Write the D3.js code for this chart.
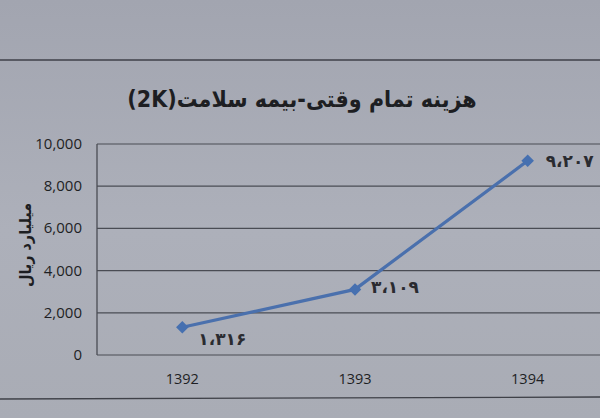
<!DOCTYPE html>
<html><head><meta charset="utf-8">
<script src="https://cdn.jsdelivr.net/npm/d3@7"></script>
<style>html,body{margin:0;padding:0;background:#aaadb7;}svg{display:block;}</style>
</head><body>
<svg id="c" width="600" height="418"></svg>
<script>
const categories = ["1392", "1393", "1394"];
const values = [1316, 3109, 9207];
const valueLabels = ["۱،۳۱۶", "۳،۱۰۹", "۹،۲۰۷"];
const yTicks = [0, 2000, 4000, 6000, 8000, 10000];
const titleText = "هزینه تمام وقتی-بیمه سلامت(2K)";
const yTitle = "میلیارد ریال";

(function(){
const svg = d3.select("#c");
const W = 600, H = 418;
const defs = svg.append("defs");
const g0 = defs.append("linearGradient").attr("id","bg").attr("x1",0).attr("y1",0).attr("x2",0).attr("y2",1);
g0.append("stop").attr("offset","0%").attr("stop-color","#a2a5b0");
g0.append("stop").attr("offset","55%").attr("stop-color","#adb0ba");
g0.append("stop").attr("offset","100%").attr("stop-color","#a9acb5");
svg.append("rect").attr("width",W).attr("height",H).attr("fill","url(#bg)");

svg.append("line").attr("x1",0).attr("x2",W).attr("y1",60).attr("y2",60).attr("stroke","#3f4148").attr("stroke-width",1.3);
svg.append("line").attr("x1",0).attr("x2",W).attr("y1",399).attr("y2",397).attr("stroke","#3f4148").attr("stroke-width",1.3);

const pl = 97, pt = 144, pb = 355, pr = 615;
const x = d3.scaleBand().domain(categories).range([pl, pr]);
const y = d3.scaleLinear().domain([0, 10000]).range([pb, pt]);

svg.append("g").selectAll("line").data(yTicks).join("line")
  .attr("x1", pl).attr("x2", W)
  .attr("y1", d => y(d)).attr("y2", d => y(d))
  .attr("stroke", "#4a4c54").attr("stroke-width", 1.2);
svg.append("line").attr("x1",pl).attr("x2",pl).attr("y1",pt).attr("y2",pb).attr("stroke","#4a4c54").attr("stroke-width",1.3);

svg.append("g").selectAll("text").data(yTicks).join("text")
  .attr("x", 82).attr("y", d => y(d) + 5)
  .attr("text-anchor", "end")
  .attr("font-family", "Open Sans, sans-serif").attr("font-size", 15).attr("fill", "#1e1f24")
  .text(d => d3.format(",")(d));

svg.append("g").selectAll("text").data(categories).join("text")
  .attr("x", d => x(d) + x.bandwidth()/2 - 1).attr("y", 384)
  .attr("text-anchor", "middle")
  .attr("font-family", "Open Sans, sans-serif").attr("font-size", 14.5).attr("fill", "#1e1f24")
  .text(d => d);

svg.append("text").attr("x", 302).attr("y", 107)
  .attr("text-anchor", "middle").attr("direction","rtl").style("unicode-bidi","embed")
  .attr("font-family", "DejaVu Sans Condensed, DejaVu Sans, sans-serif").attr("font-weight", "bold").attr("font-size", 23).attr("fill", "#1d1e22")
  .text(titleText);

svg.append("text").attr("transform", "translate(31,245) rotate(-90)")
  .attr("text-anchor", "middle").attr("direction","rtl").style("unicode-bidi","embed")
  .attr("font-family", "DejaVu Sans Condensed, DejaVu Sans, sans-serif").attr("font-weight", "bold").attr("font-size", 16).attr("fill", "#1d1e22")
  .text(yTitle);

const pts = categories.map((c, i) => [x(c) + x.bandwidth()/2 - 1, y(values[i])]);
svg.append("path").datum(pts)
  .attr("d", d3.line())
  .attr("fill", "none").attr("stroke", "#4a70ad").attr("stroke-width", 3.2);
svg.append("g").selectAll("path").data(pts).join("path")
  .attr("transform", d => `translate(${d[0]},${d[1]})`)
  .attr("d", d3.symbol(d3.symbolDiamond2, 100))
  .attr("fill", "#4670b0");

const offs = [[40, 13], [40, -1], [42, 1]];
svg.append("g").selectAll("text").data(pts).join("text")
  .attr("x", (d, i) => d[0] + offs[i][0]).attr("y", (d, i) => d[1] + offs[i][1] + 5)
  .attr("text-anchor", "middle")
  .attr("font-family", "DejaVu Sans, sans-serif").attr("font-weight","bold").attr("font-size", 17).attr("fill", "#2a2b30")
  .text((d, i) => valueLabels[i]);
})();
</script>
</body></html>
